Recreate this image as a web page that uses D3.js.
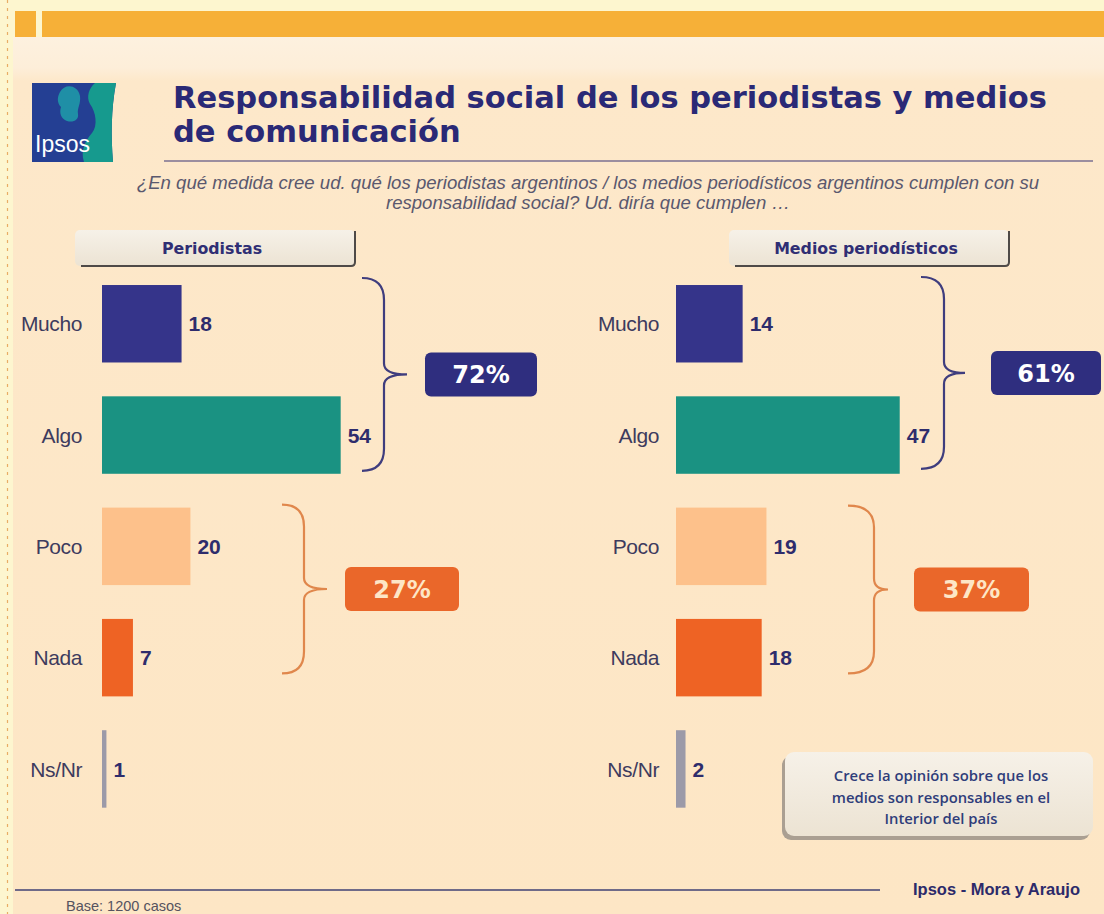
<!DOCTYPE html>
<html>
<head>
<meta charset="utf-8">
<script src="https://cdn.jsdelivr.net/npm/d3@7/dist/d3.min.js"></script>
<style>
  html, body { margin: 0; padding: 0; background: #fdf6cf; }
  svg { display: block; }
</style>
</head>
<body>
<svg id="chart" width="1104" height="914"></svg>
<script>
// ---------------- DATA ----------------
const categories = ["Mucho", "Algo", "Poco", "Nada", "Ns/Nr"];
const periodistas = [18, 54, 20, 7, 1];
const medios = [14, 47, 19, 18, 2];
const groupMembers = [["Mucho", "Algo"], ["Poco", "Nada"]];
const totalsPeriodistas = [72, 27];
const totalsMedios = [61, 37];
const panelTitles = ["Periodistas", "Medios periodísticos"];
const titleLines = ["Responsabilidad social de los periodistas y medios", "de comunicación"];
const questionLines = [
  "¿En qué medida cree ud. qué los periodistas argentinos / los medios periodísticos argentinos cumplen con su",
  "responsabilidad social? Ud. diría que cumplen …"
];
const noteLines = ["Crece la opinión sobre que los", "medios son responsables en el", "Interior del país"];
const sourceText = "Ipsos - Mora y Araujo";
const baseText = "Base: 1200 casos";

// ---------------- STYLE / LAYOUT ----------------
const barColor = d3.scaleOrdinal()
  .domain(categories)
  .range(["#35348a", "#1a9282", "#fdc18b", "#ee6324", "#9c9aa8"]);
const groupColor = ["#3f3d7e", "#e0874c"];
const badgeFill = ["#2f2e7f", "#ea672a"];
const badgeText = ["#ffffff", "#fde6c6"];

const svg = d3.select("#chart");
const defs = svg.append("defs");

const bgGrad = defs.append("linearGradient").attr("id", "bg")
  .attr("gradientUnits", "userSpaceOnUse").attr("x1", 0).attr("x2", 0).attr("y1", 37).attr("y2", 914);
bgGrad.append("stop").attr("offset", 0).attr("stop-color", "#fdf1df");
bgGrad.append("stop").attr("offset", 0.035).attr("stop-color", "#fdeed9");
bgGrad.append("stop").attr("offset", 0.05).attr("stop-color", "#fde8ca");
bgGrad.append("stop").attr("offset", 1).attr("stop-color", "#fde6c5");

const boxGrad = defs.append("linearGradient").attr("id", "boxg")
  .attr("x1", 0).attr("x2", 0).attr("y1", 0).attr("y2", 1);
boxGrad.append("stop").attr("offset", 0).attr("stop-color", "#f6f1e8");
boxGrad.append("stop").attr("offset", 1).attr("stop-color", "#ece3d3");

// background
svg.append("rect").attr("width", 1104).attr("height", 914).attr("fill", "#fdf6cf");
svg.append("rect").attr("x", 13).attr("y", 37).attr("width", 1091).attr("height", 877).attr("fill", "url(#bg)");
svg.append("line").attr("x1", 7.5).attr("x2", 7.5).attr("y1", 0).attr("y2", 914)
  .attr("stroke", "#e8ad66").attr("stroke-width", 1.2).attr("stroke-dasharray", "3,5");
svg.append("rect").attr("x", 15).attr("y", 11).attr("width", 21).attr("height", 26).attr("fill", "#f6b038");
svg.append("rect").attr("x", 42).attr("y", 11).attr("width", 1062).attr("height", 26).attr("fill", "#f6b038");

// logo
const logo = svg.append("g");
logo.append("path").attr("d", "M32,83 H116 C111,110 111,136 113,162 H32 Z").attr("fill", "#243f93");
logo.append("path").attr("d", "M84,162 C80,150 86,140 92,133 C98,126 96,112 90,104 C86,97 89,88 95,83 H116 C111,110 111,136 113,162 Z")
  .attr("fill", "#169a8e");
logo.append("path").attr("d", "M60,92 C65,83 78,85 80,96 C81,104 77,108 78,114 C79,120 73,123 67,121 C61,119 59,113 61,107 C57,103 57,97 60,92 Z")
  .attr("fill", "#1f8fa6");
logo.append("text").attr("x", 35).attr("y", 152).text("Ipsos")
  .attr("font-family", "'Liberation Sans', Arial, sans-serif").attr("font-size", 23)
  .attr("fill", "#ffffff");

// title
svg.append("g").selectAll("text").data(titleLines).join("text")
  .attr("x", 173).attr("y", (d, i) => 108 + i * 34)
  .attr("font-family", "'DejaVu Sans', Verdana, sans-serif").attr("font-weight", "bold")
  .attr("font-size", 30.5).attr("fill", "#2a2976").text(d => d);
svg.append("line").attr("x1", 164).attr("x2", 1093).attr("y1", 161).attr("y2", 161)
  .attr("stroke", "#7a7090").attr("stroke-width", 1.6);

// question
svg.append("g").selectAll("text").data(questionLines).join("text")
  .attr("x", 588).attr("y", (d, i) => 189 + i * 20).attr("text-anchor", "middle")
  .attr("font-family", "'Liberation Sans', Arial, sans-serif").attr("font-style", "italic")
  .attr("font-size", 18.6).attr("fill", "#5a586e").text(d => d);

// ---------------- PANELS ----------------
const y = d3.scaleBand().domain(categories).range([268.1, 824.6])
  .paddingInner(0.304).paddingOuter(0.152);

const panels = [
  { values: periodistas, totals: totalsPeriodistas, title: panelTitles[0],
    x0: 102, unit: 4.42, labelX: 82, box: [75, 355], badgeGap: 18,
    braces: [{ x: 362, vx: 384, tip: 407, off: [-7, -3], w: 112 },
             { x: 282, vx: 304, tip: 327, off: [-3, -23], w: 114 }] },
  { values: medios, totals: totalsMedios, title: panelTitles[1],
    x0: 676, unit: 4.76, labelX: 659, box: [729, 1009], badgeGap: 26,
    braces: [{ x: 921, vx: 944, tip: 965, off: [-8, -5], w: 110 },
             { x: 848, vx: 874, tip: 888, off: [-2, -23], w: 115 }] }
];

panels.forEach(p => {
  const g = svg.append("g");
  const x = d3.scaleLinear().domain([0, 100]).range([p.x0, p.x0 + 100 * p.unit]);
  const rows = categories.map((c, i) => ({ cat: c, val: p.values[i] }));

  // header box
  const hb = g.append("g");
  hb.append("rect").attr("x", p.box[0]).attr("y", 230).attr("width", p.box[1] - p.box[0]).attr("height", 36)
    .attr("rx", 5).attr("fill", "url(#boxg)");
  hb.append("path")
    .attr("d", `M${p.box[0] + 6},266 H${p.box[1] - 4} Q${p.box[1]},266 ${p.box[1]},262 V231`)
    .attr("fill", "none").attr("stroke", "#4e4a48").attr("stroke-width", 2);
  hb.append("text").attr("x", (p.box[0] + p.box[1]) / 2 - 3).attr("y", 254).attr("text-anchor", "middle")
    .attr("font-family", "'DejaVu Sans', Verdana, sans-serif").attr("font-weight", "bold")
    .attr("font-size", 15.8).attr("fill", "#2f2e74").text(p.title);

  // bars
  g.selectAll("rect.bar").data(rows).join("rect").attr("class", "bar")
    .attr("x", x(0)).attr("y", d => y(d.cat))
    .attr("width", d => x(d.val) - x(0)).attr("height", y.bandwidth())
    .attr("fill", d => barColor(d.cat));

  // category labels
  g.selectAll("text.cat").data(rows).join("text").attr("class", "cat")
    .attr("x", p.labelX).attr("y", d => y(d.cat) + y.bandwidth() / 2).attr("dy", "0.36em")
    .attr("text-anchor", "end")
    .attr("font-family", "'Liberation Sans', Arial, sans-serif").attr("font-size", 21)
    .attr("letter-spacing", -0.4).attr("fill", "#3d3b5e").text(d => d.cat);

  // value labels
  g.selectAll("text.val").data(rows).join("text").attr("class", "val")
    .attr("x", d => x(d.val) + 7).attr("y", d => y(d.cat) + y.bandwidth() / 2).attr("dy", "0.36em")
    .attr("font-family", "'Liberation Sans', Arial, sans-serif").attr("font-weight", "bold")
    .attr("font-size", 21).attr("fill", "#2e2c6c").text(d => d.val);

  // braces + badges
  groupMembers.forEach((members, gi) => {
    const b = p.braces[gi];
    const y0 = y(members[0]) + b.off[0];
    const y1 = y(members[members.length - 1]) + y.bandwidth() + b.off[1];
    const ym = (y0 + y1) / 2;
    const r = 22;
    const path = `M${b.x},${y0} Q${b.vx},${y0} ${b.vx},${y0 + r} L${b.vx},${ym - 11} ` +
      `Q${b.vx},${ym} ${b.tip},${ym} Q${b.vx},${ym} ${b.vx},${ym + 11} ` +
      `L${b.vx},${y1 - r} Q${b.vx},${y1} ${b.x},${y1}`;
    g.append("path").attr("d", path).attr("fill", "none")
      .attr("stroke", groupColor[gi]).attr("stroke-width", 2.2);
    const bx = b.tip + p.badgeGap;
    g.append("rect").attr("x", bx).attr("y", ym - 22).attr("width", b.w).attr("height", 44)
      .attr("rx", 6).attr("fill", badgeFill[gi]);
    g.append("text").attr("x", bx + b.w / 2).attr("y", ym).attr("dy", "0.36em")
      .attr("text-anchor", "middle")
      .attr("font-family", "'DejaVu Sans', Verdana, sans-serif").attr("font-weight", "bold")
      .attr("font-size", 24).attr("fill", badgeText[gi]).text(p.totals[gi] + "%");
  });
});

// note box
const note = svg.append("g");
note.append("rect").attr("x", 782).attr("y", 756).attr("width", 308).attr("height", 84).attr("rx", 9)
  .attr("fill", "#8d8780").attr("opacity", 0.75);
note.append("rect").attr("x", 785).attr("y", 752).attr("width", 308).attr("height", 84).attr("rx", 9)
  .attr("fill", "url(#boxg)");
note.selectAll("text.note").data(noteLines).join("text").attr("class", "note")
  .attr("x", 941).attr("y", (d, i) => 781 + i * 21.5).attr("text-anchor", "middle")
  .attr("font-family", "'Open Sans', 'Noto Sans', sans-serif").attr("font-weight", 600)
  .attr("font-size", 14.8).attr("fill", "#2f3d7a").text(d => d);

// footer
svg.append("line").attr("x1", 15).attr("x2", 880).attr("y1", 890).attr("y2", 890)
  .attr("stroke", "#6f6a88").attr("stroke-width", 2);
svg.append("text").attr("x", 913).attr("y", 895).attr("textLength", 167).attr("lengthAdjust", "spacingAndGlyphs")
  .attr("font-family", "'Liberation Sans', Arial, sans-serif").attr("font-weight", "bold").attr("font-size", 17)
  .attr("fill", "#2c2a6a").text(sourceText);
svg.append("text").attr("x", 66).attr("y", 911)
  .attr("font-family", "'Liberation Sans', Arial, sans-serif").attr("font-size", 14.5)
  .attr("fill", "#55535f").text(baseText);
</script>
</body>
</html>
